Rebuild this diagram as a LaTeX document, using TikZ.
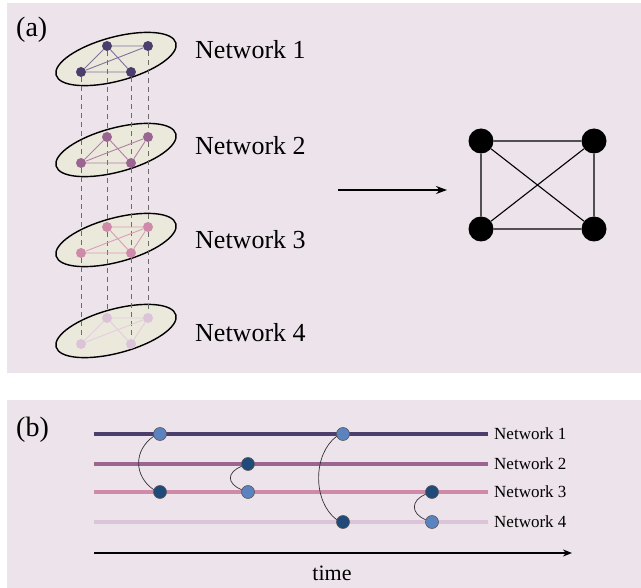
\documentclass[tikz,border=0pt]{standalone}
\usepackage{fontspec}
\setmainfont{Liberation Serif}
\usetikzlibrary{arrows.meta,shapes.geometric}
\definecolor{bgc}{HTML}{EDE3EB}
\definecolor{ellfill}{HTML}{EBE8DC}
\definecolor{nA}{HTML}{4B3D6C}
\definecolor{nB}{HTML}{9B6591}
\definecolor{nC}{HTML}{CF8AA9}
\definecolor{nD}{HTML}{DBC3D8}
\definecolor{eA}{HTML}{7E719C}
\definecolor{eB}{HTML}{B27FA8}
\definecolor{eC}{HTML}{DA9DB8}
\definecolor{eD}{HTML}{E2CEE0}
\definecolor{lblue}{HTML}{5B83BF}
\definecolor{dblue}{HTML}{1F4A79}
\begin{document}
\begin{tikzpicture}[x=1pt,y=-1pt,
  plate/.style={ellipse,draw=black,line width=1.4pt,fill=ellfill,minimum width=124pt,minimum height=44pt,inner sep=0pt,rotate=15},
  dot/.style={circle,inner sep=0pt,minimum size=10pt},
  edge/.style={line width=0.9pt},
  vlink/.style={draw=gray!85!black,line width=0.8pt,dash pattern=on 5pt off 4pt},
  netlabel/.style={font=\fontsize{26}{30}\selectfont,anchor=west,inner sep=0pt},
  panellabel/.style={font=\fontsize{28}{32}\selectfont,anchor=west,inner sep=0pt},
  bigdot/.style={circle,fill=black,inner sep=0pt,minimum size=25pt},
  bigedge/.style={line width=1.1pt},
  tline/.style={line width=4pt},
  ev/.style={circle,draw=gray!70!black,line width=0.6pt,inner sep=0pt,minimum size=13pt},
  tlabel/.style={font=\fontsize{17}{20}\selectfont,anchor=west,inner sep=0pt},
  hop/.style={draw=gray!40!black,line width=0.7pt}]
\useasboundingbox (0,0) rectangle (641,588);
\fill[white] (0,0) rectangle (641,588);
\fill[bgc] (7,3) rectangle (641,373);
\fill[bgc] (7,400) rectangle (641,588);

\node[panellabel] (la) at (16,30) {(a)};
\node[panellabel] (lb) at (16,430) {(b)};

% plates
\node[plate] (p1) at (116,59) {};
\node[plate] (p2) at (116,150) {};
\node[plate] (p3) at (116,240) {};
\node[plate] (p4) at (116,331) {};

% dots
\foreach \k/\cy/\c in {1/59/nA,2/150/nB,3/240/nC,4/331/nD}{
  \node[dot,fill=\c] (n\k a) at (81,\cy+13) {};
  \node[dot,fill=\c] (n\k b) at (107,\cy-13) {};
  \node[dot,fill=\c] (n\k c) at (148,\cy-13) {};
  \node[dot,fill=\c] (n\k d) at (131,\cy+13) {};
}
% vertical dashed links
\foreach \p in {a,b,c,d}{
  \draw[vlink] (n1\p) -- (n2\p);
  \draw[vlink] (n2\p) -- (n3\p);
  \draw[vlink] (n3\p) -- (n4\p);
}
% intra-layer edges
\draw[edge,eA] (n1b) -- (n1c) (n1b) -- (n1d) (n1a) -- (n1c) (n1a) -- (n1d) (n1a) -- (n1b);
\draw[edge,eB] (n2a) -- (n2b) (n2b) -- (n2d) (n2a) -- (n2c) (n2a) -- (n2d) (n2c) -- (n2d);
\draw[edge,eC] (n3b) -- (n3c) (n3b) -- (n3d) (n3a) -- (n3c) (n3a) -- (n3d) (n3c) -- (n3d);
\draw[edge,eD] (n4b) -- (n4c) (n4b) -- (n4d) (n4a) -- (n4c) (n4c) -- (n4d) (n4a) -- (n4b);

\node[netlabel] (t1) at (195,50) {Network 1};
\node[netlabel] (t2) at (195,146) {Network 2};
\node[netlabel] (t3) at (195,240) {Network 3};
\node[netlabel] (t4) at (195,333) {Network 4};

% aggregation arrow
\coordinate (as) at (338,190);
\coordinate (ae) at (447,190);
\draw[line width=1.1pt,-{Stealth[length=11pt,width=8pt]}] (as) -- (ae);

% aggregated graph
\node[bigdot] (g1) at (481,141) {};
\node[bigdot] (g2) at (594,141) {};
\node[bigdot] (g3) at (481,229) {};
\node[bigdot] (g4) at (594,229) {};
\draw[bigedge] (g1) -- (g2) (g3) -- (g4) (g1) -- (g3) (g2) -- (g4) (g1) -- (g4) (g2) -- (g3);

% panel (b): timelines
\foreach \k/\y/\c in {1/434/nA,2/464/nB,3/492/nC,4/522/nD}{
  \coordinate (s\k) at (94,\y);
  \coordinate (e\k) at (488,\y);
  \draw[tline,\c] (s\k) -- (e\k);
  \node[tlabel] (L\k) at (494,\y) {Network \k};
}

% events
\node[ev,fill=lblue] (v1) at (160,434) {};
\node[ev,fill=dblue] (v2) at (160,492) {};
\node[ev,fill=dblue] (v3) at (248,464) {};
\node[ev,fill=lblue] (v4) at (248,492) {};
\node[ev,fill=lblue] (v5) at (343,434) {};
\node[ev,fill=dblue] (v6) at (343,522) {};
\node[ev,fill=dblue] (v7) at (432,492) {};
\node[ev,fill=lblue] (v8) at (432,522) {};

\draw[hop] (v1.200) .. controls +(-20,14) and +(-20,-14) .. (v2.160);
\draw[hop] (v3.200) .. controls +(-15,6) and +(-15,-6) .. (v4.160);
\draw[hop] (v5.200) .. controls +(-24,18) and +(-24,-18) .. (v6.160);
\draw[hop] (v7.200) .. controls +(-15,6) and +(-15,-6) .. (v8.160);

% time axis
\coordinate (ts) at (94,553);
\coordinate (te) at (572,553);
\draw[line width=2pt,-{Stealth[length=9pt,width=7pt]}] (ts) -- (te);
\node[font=\fontsize{22}{26}\selectfont,inner sep=0pt] (tm) at (332,573) {time};
\end{tikzpicture}
\end{document}
